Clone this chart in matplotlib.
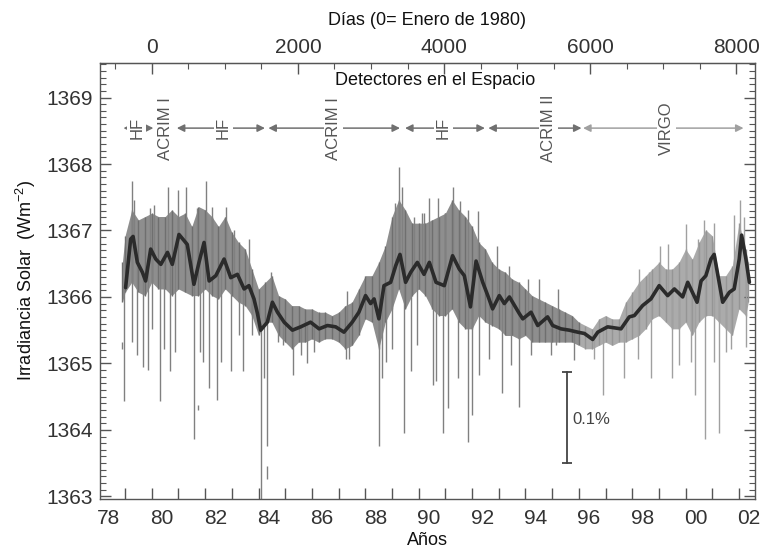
import matplotlib
matplotlib.use("Agg")
import numpy as np
import matplotlib.pyplot as plt
from matplotlib.ticker import MultipleLocator

plt.rcParams['font.family'] = ['Liberation Sans', 'DejaVu Sans']
plt.rcParams['mathtext.default'] = 'regular'

# Dense part of the daily data (band)
core_t = [1978.90, 1979.00, 1979.25, 1979.50, 1979.75, 1980.00, 1980.25, 1980.50, 1980.75, 1981.00,
          1981.25, 1981.50, 1981.75, 1982.00, 1982.25, 1982.50, 1982.75, 1983.00, 1983.25, 1983.50,
          1983.75, 1984.00, 1984.25, 1984.50, 1984.75, 1985.00, 1985.25, 1985.50, 1985.75, 1986.00,
          1986.25, 1986.50, 1986.75, 1987.00, 1987.25, 1987.50, 1987.75, 1988.00, 1988.25, 1988.50,
          1988.75, 1989.00, 1989.25, 1989.50, 1989.75, 1990.00, 1990.25, 1990.50, 1990.75, 1991.00,
          1991.25, 1991.50, 1991.75, 1992.00, 1992.25, 1992.50, 1992.75, 1993.00, 1993.25, 1993.50,
          1993.75, 1994.00, 1994.25, 1994.50, 1994.75, 1995.00, 1995.25, 1995.50, 1995.75, 1996.00,
          1996.25, 1996.50, 1996.75, 1997.00, 1997.25, 1997.50, 1997.75, 1998.00, 1998.25, 1998.50,
          1998.75, 1999.00, 1999.25, 1999.50, 1999.75, 2000.00, 2000.25, 2000.50, 2000.75, 2001.00,
          2001.25, 2001.50, 2001.75, 2002.00, 2002.25, 2002.35]
core_hi = [1366.52, 1366.92, 1367.31, 1367.16, 1367.21, 1367.26, 1367.21, 1367.21, 1367.31, 1367.21,
           1367.26, 1367.06, 1367.36, 1367.31, 1367.21, 1367.06, 1367.21, 1366.97, 1366.82, 1366.72,
           1366.42, 1366.12, 1366.22, 1366.32, 1366.02, 1365.97, 1365.87, 1365.87, 1365.82, 1365.82,
           1365.77, 1365.77, 1365.72, 1365.77, 1365.87, 1365.92, 1366.12, 1366.32, 1366.32, 1366.52,
           1366.77, 1367.21, 1367.46, 1367.31, 1367.11, 1367.11, 1367.11, 1367.16, 1367.21, 1367.26,
           1367.46, 1367.31, 1367.21, 1367.06, 1366.82, 1366.72, 1366.52, 1366.42, 1366.37, 1366.27,
           1366.22, 1366.12, 1366.02, 1365.97, 1365.92, 1365.87, 1365.82, 1365.77, 1365.72, 1365.62,
           1365.57, 1365.52, 1365.67, 1365.72, 1365.67, 1365.67, 1365.92, 1366.07, 1366.22, 1366.32,
           1366.42, 1366.52, 1366.42, 1366.42, 1366.52, 1366.72, 1366.57, 1366.82, 1367.01, 1366.92,
           1366.32, 1366.32, 1366.47, 1367.11, 1366.72, 1366.52]
core_lo = [1365.92, 1366.07, 1366.22, 1366.07, 1366.02, 1366.22, 1366.12, 1366.12, 1366.02, 1366.12,
           1366.07, 1366.02, 1366.02, 1366.12, 1366.02, 1365.97, 1366.12, 1366.02, 1365.92, 1365.87,
           1365.72, 1365.42, 1365.62, 1365.62, 1365.42, 1365.32, 1365.22, 1365.32, 1365.32, 1365.37,
           1365.32, 1365.37, 1365.37, 1365.32, 1365.22, 1365.27, 1365.42, 1365.67, 1365.62, 1365.22,
           1365.62, 1365.82, 1366.12, 1365.82, 1366.02, 1366.12, 1366.02, 1365.82, 1365.72, 1365.72,
           1365.82, 1365.62, 1365.52, 1365.52, 1365.72, 1365.62, 1365.57, 1365.52, 1365.42, 1365.42,
           1365.37, 1365.42, 1365.32, 1365.32, 1365.32, 1365.32, 1365.32, 1365.32, 1365.32, 1365.27,
           1365.22, 1365.22, 1365.27, 1365.32, 1365.27, 1365.32, 1365.32, 1365.37, 1365.42, 1365.52,
           1365.67, 1365.72, 1365.62, 1365.52, 1365.52, 1365.62, 1365.42, 1365.62, 1365.72, 1365.72,
           1365.62, 1365.52, 1365.42, 1365.82, 1365.72, 1365.92]

# upward spikes (year, top value)
up_t = [1979.27, 1979.34, 1979.94, 1980.09, 1980.61, 1980.99, 1981.28, 1981.71, 1982.05, 1982.27,
        1982.80, 1983.08, 1983.63, 1984.46, 1987.33, 1989.10, 1989.27, 1989.39, 1989.82, 1990.14,
        1990.21, 1990.40, 1990.74, 1990.99, 1991.30, 1991.56, 1991.84, 1992.24, 1992.94, 1993.40,
        1994.08, 1994.52, 1995.21, 1998.27, 1998.64, 1999.05, 1999.35, 2000.01, 2000.45, 2000.70,
        2001.07, 2001.80, 2002.04, 2002.20]
up_v = [1367.74, 1367.46, 1367.34, 1367.39, 1367.66, 1367.61, 1367.66, 1367.34, 1367.74, 1367.36,
        1367.36, 1367.01, 1366.87, 1366.37, 1366.09, 1367.41, 1367.96, 1367.66, 1367.21, 1367.26,
        1367.26, 1367.49, 1367.49, 1367.26, 1367.66, 1367.44, 1367.31, 1367.29, 1366.77, 1366.47,
        1366.27, 1366.27, 1366.12, 1366.42, 1366.37, 1366.77, 1366.79, 1367.09, 1366.87, 1367.16,
        1367.11, 1367.24, 1367.46, 1367.21]

# downward spikes (year, bottom value)
dn_t = [1978.96, 1979.25, 1979.46, 1979.67, 1979.87, 1980.00, 1980.30, 1980.46, 1980.69, 1980.86,
        1981.57, 1981.81, 1981.93, 1982.15, 1982.46, 1982.58, 1982.96, 1983.27, 1983.43, 1983.77,
        1984.08, 1984.21, 1984.33, 1984.74, 1984.93, 1985.30, 1985.58, 1985.80, 1986.08, 1987.26,
        1987.39, 1988.50, 1988.61, 1988.76, 1989.01, 1989.45, 1989.70, 1989.95,
        1990.53, 1990.65, 1990.90, 1991.09, 1991.46, 1991.84, 1991.99, 1992.27, 1992.65, 1993.12,
        1993.46, 1993.77, 1994.21, 1994.96, 1995.14, 1995.81, 1996.56, 1996.91, 1997.70, 1998.20,
        1998.70, 1999.48, 1999.76, 2000.20, 2000.35, 2000.74, 2001.07, 2001.24, 2001.51, 2001.70,
        2002.26]
dn_v = [1364.43, 1365.32, 1365.12, 1364.95, 1364.90, 1365.52, 1364.43, 1365.22, 1364.88, 1365.17,
        1363.86, 1365.17, 1365.02, 1364.63, 1364.45, 1365.02, 1364.88, 1365.42, 1364.88, 1365.42,
        1362.95, 1364.78, 1363.76, 1365.32, 1365.27, 1364.83, 1365.12, 1365.00, 1365.17, 1365.07,
        1365.07, 1363.76, 1364.78, 1365.02, 1365.22, 1363.96, 1364.88, 1365.27,
        1364.68, 1364.73, 1363.96, 1364.33, 1364.78, 1363.81, 1364.23, 1364.83, 1365.07, 1364.55,
        1364.98, 1364.35, 1365.12, 1365.12, 1365.27, 1365.05, 1365.07, 1364.53, 1364.78, 1365.07,
        1364.78, 1364.78, 1364.98, 1365.02, 1364.53, 1363.86, 1365.02, 1363.96, 1365.17, 1365.22,
        1365.25]

# small detached segments (year, bottom, top)
seg_t = [1978.90, 1981.72, 1984.33]
seg_lo = [1365.22, 1364.30, 1363.26]
seg_hi = [1365.32, 1364.37, 1363.46]

# smoothed curve
smooth_t = [1979.02, 1979.21, 1979.30, 1979.46, 1979.65, 1979.77, 1979.96, 1980.15, 1980.34, 1980.59,
            1980.77, 1981.02, 1981.33, 1981.58, 1981.77, 1981.96, 1982.15, 1982.40, 1982.71, 1982.96,
            1983.21, 1983.46, 1983.64, 1983.83, 1983.96, 1984.08, 1984.33, 1984.52, 1984.71, 1984.96,
            1985.27, 1985.58, 1985.95, 1986.27, 1986.58, 1986.89, 1987.20, 1987.51, 1987.76, 1988.01,
            1988.20, 1988.33, 1988.51, 1988.70, 1988.95, 1989.14, 1989.30, 1989.51, 1989.70, 1989.95,
            1990.20, 1990.40, 1990.65, 1990.96, 1991.27, 1991.52, 1991.71, 1991.94, 1992.15, 1992.40,
            1992.59, 1992.77, 1993.02, 1993.21, 1993.40, 1993.77, 1993.90, 1994.21, 1994.46, 1994.83,
            1995.02, 1995.33, 1995.64, 1995.96, 1996.21, 1996.52, 1996.71, 1997.08, 1997.58, 1997.89,
            1998.08, 1998.39, 1998.70, 1999.01, 1999.33, 1999.58, 1999.89, 2000.08, 2000.43, 2000.58,
            2000.76, 2000.95, 2001.07, 2001.39, 2001.64, 2001.82, 2002.01, 2002.10, 2002.26, 2002.39]
smooth_v = [1366.14, 1366.87, 1366.91, 1366.52, 1366.37, 1366.24, 1366.72, 1366.57, 1366.49, 1366.67,
            1366.49, 1366.94, 1366.79, 1366.19, 1366.52, 1366.82, 1366.24, 1366.32, 1366.57, 1366.29,
            1366.34, 1366.12, 1366.17, 1365.97, 1365.75, 1365.50, 1365.62, 1365.92, 1365.77, 1365.62,
            1365.50, 1365.55, 1365.62, 1365.52, 1365.57, 1365.55, 1365.47, 1365.62, 1365.77, 1366.02,
            1365.90, 1365.97, 1365.67, 1366.17, 1366.22, 1366.47, 1366.64, 1366.22, 1366.37, 1366.52,
            1366.34, 1366.52, 1366.22, 1366.17, 1366.62, 1366.42, 1366.32, 1365.85, 1366.54, 1366.22,
            1366.02, 1365.82, 1366.02, 1365.90, 1366.00, 1365.75, 1365.67, 1365.77, 1365.57, 1365.70,
            1365.57, 1365.52, 1365.50, 1365.47, 1365.45, 1365.36, 1365.47, 1365.55, 1365.52, 1365.70,
            1365.72, 1365.87, 1365.97, 1366.17, 1366.02, 1366.12, 1366.00, 1366.22, 1365.92, 1366.24,
            1366.32, 1366.57, 1366.64, 1365.92, 1366.07, 1366.12, 1366.57, 1366.93, 1366.57, 1366.22]

# instrument periods: (name, start, end, text position)
det_names = ['HF', 'ACRIM I', 'HF', 'ACRIM I', 'HF', 'ACRIM II', 'VIRGO']
det_start = [1978.94, None, 1980.94, 1984.37, 1989.49, 1992.61, 1996.16]
det_end = [1980.06, None, 1984.24, 1989.30, 1992.48, 1996.10, 2002.17]
det_text_x = [1979.44, 1980.50, 1982.68, 1986.80, 1990.92, 1994.85, 1999.29]

fig = plt.figure(figsize=(7.62, 5.51), dpi=100)
ax = fig.add_axes([0.1312, 0.0944, 0.8596, 0.7913])

core_t = np.array(core_t)
dark_gray = '#808080'
light_gray = '#a0a0a0'
early = core_t <= 1996.1
late = core_t >= 1996.0
ax.fill_between(core_t[early], np.array(core_lo)[early], np.array(core_hi)[early],
                color='#8e8e8e', lw=0)
ax.fill_between(core_t[late], np.array(core_lo)[late], np.array(core_hi)[late],
                color='#ababab', lw=0)
# vertical strokes through the band to give it the texture of daily values
band_cols = ['#6f6f6f' if t < 1996.1 else '#959595' for t in core_t]
ax.vlines(core_t, core_lo, core_hi, colors=band_cols, lw=1.0)

smooth_at_up = np.interp(up_t, smooth_t, smooth_v)
smooth_at_dn = np.interp(dn_t, smooth_t, smooth_v)
col_up = [dark_gray if t < 1996.1 else light_gray for t in up_t]
col_dn = [dark_gray if t < 1996.1 else light_gray for t in dn_t]
ax.vlines(up_t, smooth_at_up, up_v, colors=col_up, lw=1.0)
ax.vlines(dn_t, dn_v, smooth_at_dn, colors=col_dn, lw=1.0)
ax.vlines(seg_t, seg_lo, seg_hi, colors=dark_gray, lw=1.0)

ax.plot(smooth_t, smooth_v, color='#2b2b2b', lw=2.6, solid_joinstyle='round',
        solid_capstyle='round')

# detectors
arrow_y = 1368.54
for name, x0, x1, xt in zip(det_names, det_start, det_end, det_text_x):
    c = '#a0a0a0' if name == 'VIRGO' else '#707070'
    if x0 is not None:
        ax.annotate('', xy=(x1, arrow_y), xytext=(x0, arrow_y),
                    arrowprops=dict(arrowstyle='<|-|>', color=c, lw=1.1,
                                    mutation_scale=11, shrinkA=0, shrinkB=0))
    ax.text(xt, arrow_y, name, rotation=90, ha='center', va='center', fontsize=12,
            color='#555555', bbox=dict(facecolor='white', edgecolor='none', pad=1.5))
ax.text(1990.61, 1369.25, 'Detectores en el Espacio', ha='center', va='center',
        fontsize=13, color='#111111')

# 0.1% scale bar
bar_x = 1995.56
ax.plot([bar_x, bar_x], [1363.50, 1364.87], color='#444444', lw=1.3)
ax.plot([bar_x, bar_x], [1363.50, 1364.87], ls='', marker='_', ms=7, mew=1.3, color='#444444')
ax.text(bar_x + 0.2, 1364.15, '0.1%', ha='left', va='center', fontsize=12, color='#444444')

ax.set_xlim(1978.06, 2002.6)
ax.set_ylim(1362.96, 1369.52)

for s in ax.spines.values():
    s.set_color('#555555')
    s.set_linewidth(1.0)

# bottom axis: ticks every year, labels every two years
years = list(range(1979, 2003))
ax.set_xticks(years)
ax.set_xticklabels([''] * len(years))
lab_years = list(range(1978, 2003, 2))
ax.set_xticks([y + 0.38 for y in lab_years], minor=True)
ax.set_xticklabels(['%02d' % (y % 100) for y in lab_years], minor=True)
ax.tick_params(axis='x', which='major', direction='in', length=8, width=1, color='#555555')
ax.tick_params(axis='x', which='minor', length=0, pad=7, labelsize=15, labelcolor='#333333')
ax.set_xlabel('Años', fontsize=13, labelpad=3, color='#111111')

# y axis
ax.set_yticks(range(1363, 1370))
ax.yaxis.set_minor_locator(MultipleLocator(0.1))
ax.tick_params(axis='y', which='both', direction='in', left=True, right=True,
               color='#555555', labelsize=15, labelcolor='#333333', pad=5)
ax.tick_params(axis='y', which='major', length=8, width=1)
ax.tick_params(axis='y', which='minor', length=4, width=0.8)
ax.set_ylabel('Irradiancia Solar  (Wm$^{-2}$)', fontsize=13, labelpad=6, color='#111111')

# top axis in days since Jan 1980
sec = ax.secondary_xaxis('top', functions=(lambda y: (y - 1980) * 365.25,
                                            lambda d: 1980 + d / 365.25))
sec.set_xticks([0, 2000, 4000, 6000, 8000])
sec.xaxis.set_minor_locator(MultipleLocator(500))
sec.tick_params(axis='x', which='major', direction='in', length=8, width=1,
                color='#555555', labelsize=15, labelcolor='#333333', pad=4)
sec.tick_params(axis='x', which='minor', direction='in', length=4, width=0.8, color='#555555')
sec.spines['top'].set_color('#555555')
sec.set_xlabel('Días (0= Enero de 1980)', fontsize=13, labelpad=10, color='#111111')

fig.savefig('out.png', dpi=100)
